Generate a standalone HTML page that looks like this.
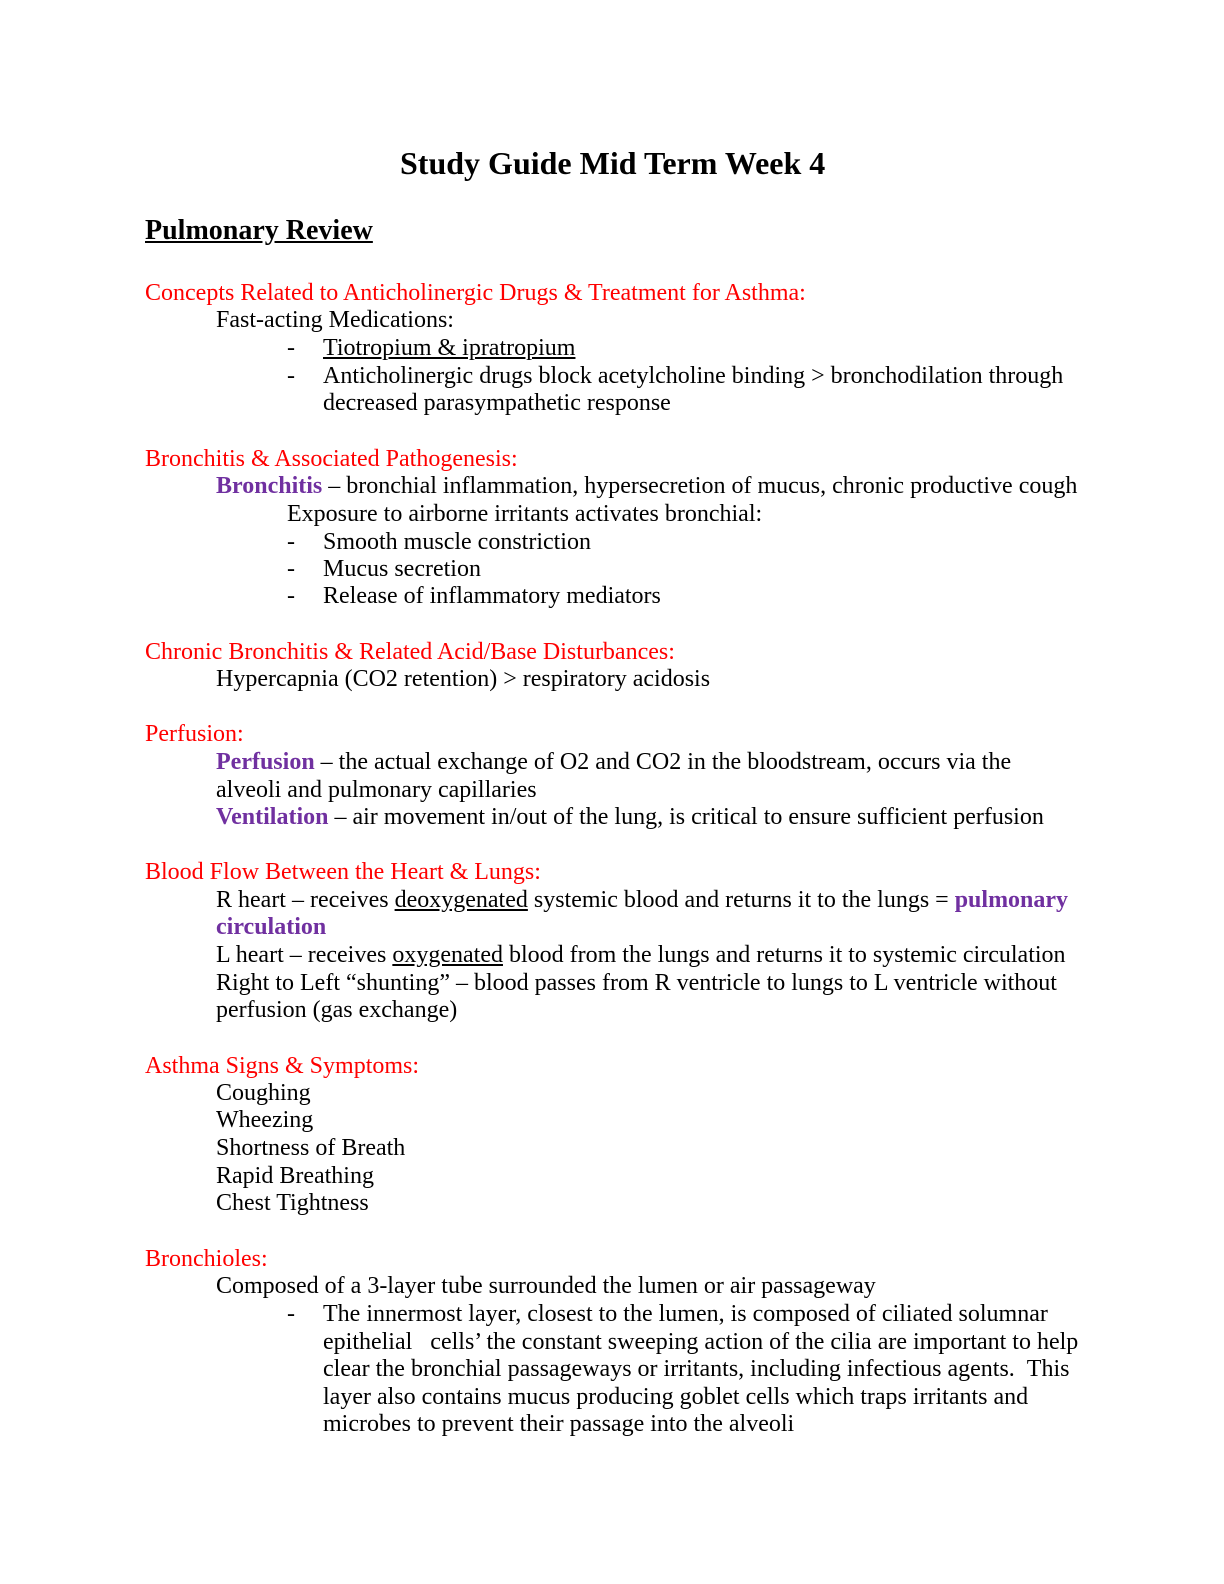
<!DOCTYPE html>
<html><head><meta charset="utf-8"><style>
body{margin:0;width:1224px;height:1584px;background:#fff;position:relative;font-family:"Liberation Serif",serif;color:#000;}
.l{position:absolute;white-space:nowrap;font-size:24px;line-height:26px;}
.r{color:#ff0000}
.p{color:#7030a0;font-weight:bold}
u{text-decoration:underline}
</style></head><body>
<div class="l" style="left:400px;top:146px;font-size:32px;line-height:34px;font-weight:bold">Study Guide Mid Term Week 4</div>
<div class="l" style="left:145px;top:215px;font-size:28px;line-height:32px;font-weight:bold"><u>Pulmonary Review</u></div>

<div class="l r" style="left:145px;top:280px">Concepts Related to Anticholinergic Drugs &amp; Treatment for Asthma:</div>
<div class="l" style="left:216px;top:307px">Fast-acting Medications:</div>
<div class="l" style="left:287px;top:335px">-</div><div class="l" style="left:323px;top:335px"><u>Tiotropium &amp; ipratropium</u></div>
<div class="l" style="left:287px;top:363px">-</div><div class="l" style="left:323px;top:363px">Anticholinergic drugs block acetylcholine binding &gt; bronchodilation through</div>
<div class="l" style="left:323px;top:390px">decreased parasympathetic response</div>

<div class="l r" style="left:145px;top:446px">Bronchitis &amp; Associated Pathogenesis:</div>
<div class="l" style="left:216px;top:473px"><span class="p">Bronchitis</span> – bronchial inflammation, hypersecretion of mucus, chronic productive cough</div>
<div class="l" style="left:287px;top:501px">Exposure to airborne irritants activates bronchial:</div>
<div class="l" style="left:287px;top:529px">-</div><div class="l" style="left:323px;top:529px">Smooth muscle constriction</div>
<div class="l" style="left:287px;top:556px">-</div><div class="l" style="left:323px;top:556px">Mucus secretion</div>
<div class="l" style="left:287px;top:583px">-</div><div class="l" style="left:323px;top:583px">Release of inflammatory mediators</div>

<div class="l r" style="left:145px;top:639px">Chronic Bronchitis &amp; Related Acid/Base Disturbances:</div>
<div class="l" style="left:216px;top:666px">Hypercapnia (CO2 retention) &gt; respiratory acidosis</div>

<div class="l r" style="left:145px;top:721px">Perfusion:</div>
<div class="l" style="left:216px;top:749px"><span class="p">Perfusion</span> – the actual exchange of O2 and CO2 in the bloodstream, occurs via the</div>
<div class="l" style="left:216px;top:777px">alveoli and pulmonary capillaries</div>
<div class="l" style="left:216px;top:804px"><span class="p">Ventilation</span> – air movement in/out of the lung, is critical to ensure sufficient perfusion</div>

<div class="l r" style="left:145px;top:859px">Blood Flow Between the Heart &amp; Lungs:</div>
<div class="l" style="left:216px;top:887px">R heart – receives <u>deoxygenated</u> systemic blood and returns it to the lungs = <span class="p">pulmonary</span></div>
<div class="l" style="left:216px;top:914px"><span class="p">circulation</span></div>
<div class="l" style="left:216px;top:942px">L heart – receives <u>oxygenated</u> blood from the lungs and returns it to systemic circulation</div>
<div class="l" style="left:216px;top:970px">Right to Left “shunting” – blood passes from R ventricle to lungs to L ventricle without</div>
<div class="l" style="left:216px;top:997px">perfusion (gas exchange)</div>

<div class="l r" style="left:145px;top:1053px">Asthma Signs &amp; Symptoms:</div>
<div class="l" style="left:216px;top:1080px">Coughing</div>
<div class="l" style="left:216px;top:1107px">Wheezing</div>
<div class="l" style="left:216px;top:1135px">Shortness of Breath</div>
<div class="l" style="left:216px;top:1163px">Rapid Breathing</div>
<div class="l" style="left:216px;top:1190px">Chest Tightness</div>

<div class="l r" style="left:145px;top:1246px">Bronchioles:</div>
<div class="l" style="left:216px;top:1273px">Composed of a 3-layer tube surrounded the lumen or air passageway</div>
<div class="l" style="left:287px;top:1301px">-</div><div class="l" style="left:323px;top:1301px">The innermost layer, closest to the lumen, is composed of ciliated solumnar</div>
<div class="l" style="left:323px;top:1329px">epithelial &nbsp;&nbsp;cells’ the constant sweeping action of the cilia are important to help</div>
<div class="l" style="left:323px;top:1356px">clear the bronchial passageways or irritants, including infectious agents. &nbsp;This</div>
<div class="l" style="left:323px;top:1384px">layer also contains mucus producing goblet cells which traps irritants and</div>
<div class="l" style="left:323px;top:1411px">microbes to prevent their passage into the alveoli</div>
</body></html>
